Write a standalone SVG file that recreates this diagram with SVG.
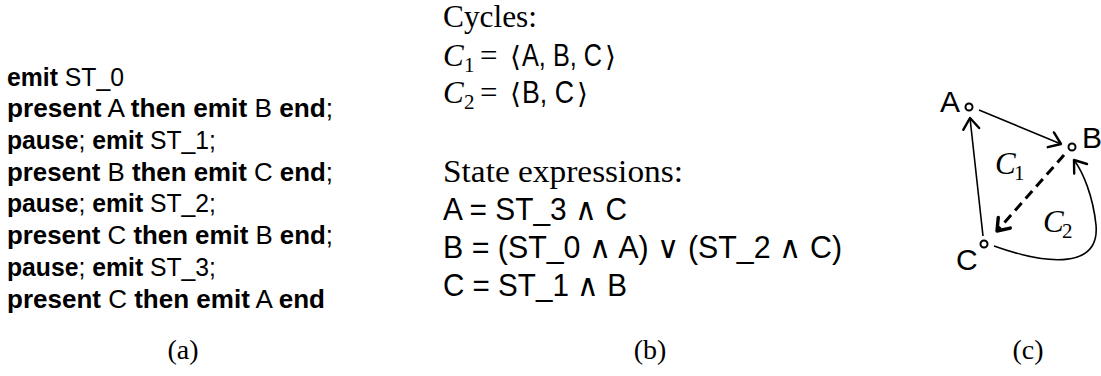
<svg xmlns="http://www.w3.org/2000/svg" width="1101" height="376" viewBox="0 0 1101 376">
<style>
.code{font-family:"Liberation Sans",Arial,sans-serif;font-size:26px;fill:#000}
.b{font-weight:bold}
.rm{font-family:"Liberation Serif","Times New Roman",serif;font-size:31px;fill:#000}
.sf{font-family:"Liberation Sans",Arial,sans-serif;font-size:31px;fill:#000}
.math{font-family:"DejaVu Serif","Liberation Serif",serif;font-size:28px;fill:#000}
.it{font-family:"Liberation Serif","Times New Roman",serif;font-style:italic;font-size:31px;fill:#000}
.sub{font-family:"Liberation Serif","Times New Roman",serif;font-size:21px;fill:#000}
.cap{font-family:"Liberation Serif","Times New Roman",serif;font-size:28px;fill:#000;text-anchor:middle}
.node{fill:#fff;stroke:#000;stroke-width:2}
.nl{font-family:"Liberation Sans",Arial,sans-serif;font-size:30px;fill:#000}
.edge{fill:none;stroke:#000;stroke-width:1.6}
.dash{fill:none;stroke:#000;stroke-width:3;stroke-dasharray:10 6}
</style>
<defs>
<marker id="arr" markerUnits="userSpaceOnUse" markerWidth="28" markerHeight="28" refX="0" refY="0" viewBox="-14 -14 28 28" orient="auto" overflow="visible">
<path d="M -11 -8 L 0 0 L -11 8" fill="none" stroke="#000" stroke-width="2.4" stroke-linecap="round" stroke-linejoin="round"/>
</marker>
<marker id="arrb" markerUnits="userSpaceOnUse" markerWidth="28" markerHeight="28" refX="0" refY="0" viewBox="-14 -14 28 28" orient="auto" overflow="visible">
<path d="M -11 -8 L 0 0 L -11 8" fill="none" stroke="#000" stroke-width="3.4" stroke-linecap="round" stroke-linejoin="round"/>
</marker>
</defs>

<g id="program">
<text class="code" x="7" y="86" textLength="117" lengthAdjust="spacingAndGlyphs"><tspan class="b">emit</tspan> ST_0</text>
<text class="code" x="7" y="117" textLength="326" lengthAdjust="spacingAndGlyphs"><tspan class="b">present</tspan> A <tspan class="b">then emit</tspan> B <tspan class="b">end</tspan>;</text>
<text class="code" x="7" y="149" textLength="209" lengthAdjust="spacingAndGlyphs"><tspan class="b">pause</tspan>; <tspan class="b">emit</tspan> ST_1;</text>
<text class="code" x="7" y="181" textLength="326" lengthAdjust="spacingAndGlyphs"><tspan class="b">present</tspan> B <tspan class="b">then emit</tspan> C <tspan class="b">end</tspan>;</text>
<text class="code" x="7" y="212" textLength="209" lengthAdjust="spacingAndGlyphs"><tspan class="b">pause</tspan>; <tspan class="b">emit</tspan> ST_2;</text>
<text class="code" x="7" y="244" textLength="326" lengthAdjust="spacingAndGlyphs"><tspan class="b">present</tspan> C <tspan class="b">then emit</tspan> B <tspan class="b">end</tspan>;</text>
<text class="code" x="7" y="276" textLength="209" lengthAdjust="spacingAndGlyphs"><tspan class="b">pause</tspan>; <tspan class="b">emit</tspan> ST_3;</text>
<text class="code" x="7" y="308" textLength="318" lengthAdjust="spacingAndGlyphs"><tspan class="b">present</tspan> C <tspan class="b">then emit</tspan> A <tspan class="b">end</tspan></text>
</g>

<g id="cycles">
<text class="rm" x="443" y="27" textLength="94" lengthAdjust="spacingAndGlyphs">Cycles:</text>
<text class="it" x="443" y="66">C</text>
<text class="sub" x="464" y="72">1</text>
<text class="rm" x="480" y="66">=</text>
<text class="math" x="510" y="66">⟨</text>
<text class="sf" x="522" y="66" textLength="80" lengthAdjust="spacingAndGlyphs">A, B, C</text>
<text class="math" x="605" y="66">⟩</text>
<text class="it" x="443" y="103">C</text>
<text class="sub" x="464" y="109">2</text>
<text class="rm" x="480" y="103">=</text>
<text class="math" x="510" y="103">⟨</text>
<text class="sf" x="522" y="103" textLength="52" lengthAdjust="spacingAndGlyphs">B, C</text>
<text class="math" x="577" y="103">⟩</text>
</g>

<g id="state-expressions">
<text class="rm" x="443" y="182" textLength="240" lengthAdjust="spacingAndGlyphs">State expressions:</text>
<text class="sf" x="443" y="220" textLength="184" lengthAdjust="spacingAndGlyphs">A = ST_3 ∧ C</text>
<text class="sf" x="443" y="258" textLength="399" lengthAdjust="spacingAndGlyphs">B = (ST_0 ∧ A) ∨ (ST_2 ∧ C)</text>
<text class="sf" x="443" y="296" textLength="184" lengthAdjust="spacingAndGlyphs">C = ST_1 ∧ B</text>
</g>

<g id="connectors">
<line class="edge" x1="979" y1="110" x2="1061" y2="144" marker-end="url(#arr)"/>
<line class="edge" x1="983" y1="236" x2="970" y2="118" marker-end="url(#arr)"/>
<line class="dash" x1="1064" y1="155" x2="997" y2="231" marker-end="url(#arrb)"/>
<path class="edge" d="M 994 246 C 1050 266 1100 268 1096 225 C 1093 196 1083 172 1074 160" marker-end="url(#arr)"/>
</g>

<g id="node-A">
<circle class="node" cx="969" cy="107" r="3.5"/>
<text class="nl" x="940" y="112">A</text>
</g>
<g id="node-B">
<circle class="node" cx="1072" cy="147" r="3.5"/>
<text class="nl" x="1082" y="148">B</text>
</g>
<g id="node-C">
<circle class="node" cx="984" cy="244" r="3.5"/>
<text class="nl" x="956" y="270">C</text>
</g>

<g id="cycle-labels">
<text class="it" x="995" y="174">C</text>
<text class="sub" x="1014" y="180">1</text>
<text class="it" x="1043" y="232">C</text>
<text class="sub" x="1062" y="238">2</text>
</g>

<g id="captions">
<text class="cap" x="183" y="359">(a)</text>
<text class="cap" x="650" y="359">(b)</text>
<text class="cap" x="1028" y="359">(c)</text>
</g>
</svg>
